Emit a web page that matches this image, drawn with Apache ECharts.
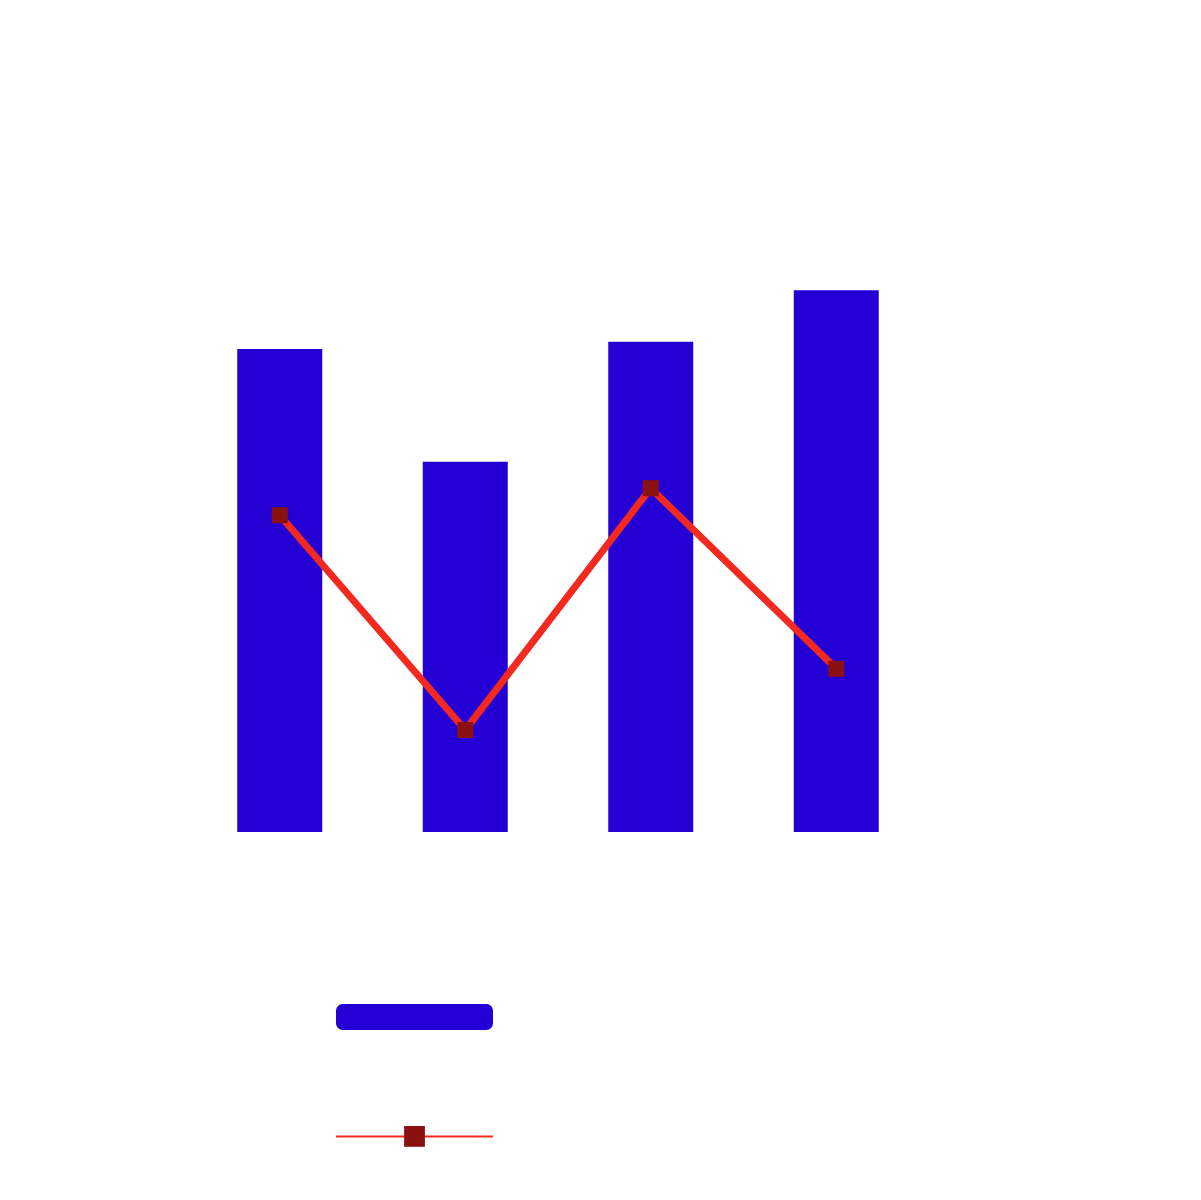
<!DOCTYPE html>
<html><head><meta charset="utf-8">
<script src="https://cdn.jsdelivr.net/npm/echarts@6/dist/echarts.min.js"></script>
<style>html,body{margin:0;padding:0;background:#fff}#c{width:1201px;height:1200px}</style>
</head><body><div id="c"></div>
<script>
const categories = ['A', 'B', 'C', 'D'];
const barValues = [80.5, 61.7, 81.7, 90.3];
const lineValues = [52.8, 17, 57.3, 27.2];
const chart = echarts.init(document.getElementById('c'));
chart.setOption({
  animation: false,
  grid: { left: 187, right: 272, top: 232, bottom: 368 },
  xAxis: { type: 'category', data: categories, show: false },
  yAxis: { type: 'value', min: 0, max: 100, show: false },
  legend: {
    orient: 'vertical', left: 330, top: 999, itemWidth: 157, itemHeight: 26, itemGap: 96,
    textStyle: { color: '#ffffff', fontSize: 14 },
    data: ['Bar', 'Line']
  },
  series: [
    { name: 'Bar', type: 'bar', data: barValues, barWidth: 85, itemStyle: { color: '#2400d4' } },
    { name: 'Line', type: 'line', data: lineValues, symbol: 'rect', symbolSize: 16,
      lineStyle: { color: '#f2291f', width: 7 }, itemStyle: { color: '#8b1010' } }
  ]
});
</script></body></html>
